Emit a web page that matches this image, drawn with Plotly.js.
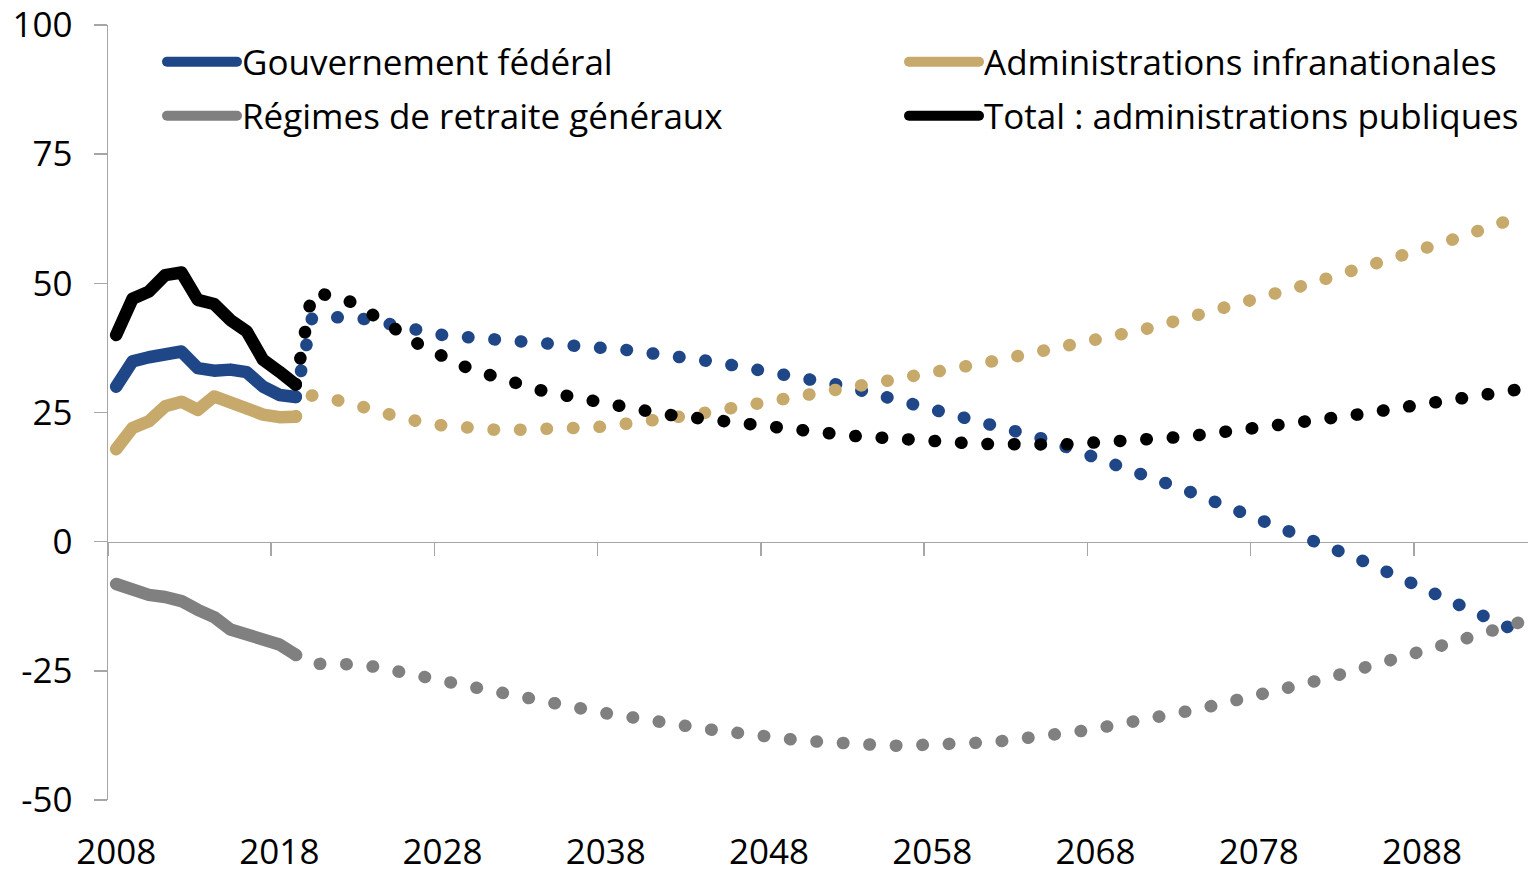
<!DOCTYPE html>
<html>
<head>
<meta charset="utf-8">
<script src="https://cdn.plot.ly/plotly-3.0.1.min.js"></script>
<style>
  html, body { margin: 0; padding: 0; background: #fff; }
  #chart { width: 1529px; height: 873px; }
  .js-line { stroke-linecap: round; stroke-linejoin: round; }
</style>
</head>
<body>
<div id="chart"></div>
<script>
// ---- Data ----
const histYears = [2008,2009,2010,2011,2012,2013,2014,2015,2016,2017,2018,2019];
const projYears = [2019,2020,2021,2022,2023,2024,2025,2026,2027,2028,2029,2030,2031,2032,2033,2034,2035,2036,2037,2038,2039,
  2040,2041,2042,2043,2044,2045,2046,2047,2048,2049,2050,2051,2052,2053,2054,2055,2056,2057,2058,2059,
  2060,2061,2062,2063,2064,2065,2066,2067,2068,2069,2070,2071,2072,2073,2074,2075,2076,2077,2078,2079,
  2080,2081,2082,2083,2084,2085,2086,2087,2088,2089,2090,2091,2092,2093,2094];

const federalHist = [30.0,34.9,35.7,36.4,36.8,33.6,33.1,33.3,32.8,30.0,28.4,28.0];
const federalProj = [28.0,43.3,43.5,43.5,43.2,42.6,41.8,41.1,40.5,40.0,39.7,39.5,39.3,39.0,38.9,38.7,38.4,38.1,37.9,37.6,37.2,
  36.8,36.5,36.1,35.7,35.1,34.6,34.1,33.6,33.0,32.4,31.8,31.2,30.5,29.8,29.0,28.3,27.5,26.8,26.0,25.1,
  24.2,23.4,22.5,21.6,20.6,19.7,18.6,17.5,16.5,15.4,14.3,13.1,11.9,10.7,9.4,8.1,6.9,5.6,4.4,3.1,
  2.0,0.7,-0.6,-1.9,-3.2,-4.6,-6.0,-7.4,-8.8,-10.3,-11.7,-13.2,-14.6,-16.1,-17.6];

const subnatHist = [17.9,22.0,23.3,26.2,27.1,25.5,28.1,26.9,26.0,24.6,24.1,24.2];
const subnatProj = [24.2,28.3,27.8,27.2,26.2,25.2,24.3,23.5,22.9,22.5,22.1,21.9,21.7,21.6,21.6,21.6,21.7,21.9,22.1,22.3,22.6,
  23.0,23.4,23.9,24.4,24.9,25.4,25.9,26.5,27.1,27.6,28.2,28.7,29.3,29.9,30.4,31.0,31.6,32.3,32.9,33.4,
  34.0,34.5,35.1,35.7,36.3,37.0,37.6,38.2,38.9,39.6,40.3,41.1,41.9,42.7,43.5,44.4,45.2,46.1,47.1,48.0,
  48.9,49.8,50.7,51.6,52.6,53.6,54.6,55.6,56.6,57.6,58.6,59.6,60.8,61.7,62.9];

const pensionHist = [-8.2,-9.4,-10.3,-10.7,-11.5,-13.2,-14.6,-17.0,-18.0,-19.1,-19.9,-21.9];
const pensionProj = [-21.9,-23.7,-23.6,-23.6,-23.8,-24.3,-24.8,-25.4,-26.1,-26.9,-27.6,-28.3,-29.0,-29.6,-30.3,-30.9,-31.4,-32.0,-32.6,-33.2,-33.8,
  -34.3,-34.7,-35.3,-35.7,-36.2,-36.6,-37.1,-37.5,-37.8,-38.2,-38.5,-38.7,-39.0,-39.2,-39.3,-39.4,-39.5,-39.5,-39.4,-39.3,
  -39.1,-38.9,-38.7,-38.4,-38.0,-37.6,-37.2,-36.7,-36.2,-35.7,-35.1,-34.5,-33.9,-33.3,-32.6,-31.9,-31.2,-30.6,-29.8,-28.9,
  -28.2,-27.4,-26.6,-25.7,-24.9,-24.0,-23.1,-22.2,-21.3,-20.3,-19.4,-18.5,-17.5,-16.5,-15.6];

const totalHist = [40.0,47.0,48.4,51.6,52.1,46.8,46.0,42.9,40.7,35.2,32.9,30.4];
const totalProj = [30.4,48.2,47.7,47.0,45.3,43.5,41.4,39.1,37.3,35.7,34.3,33.1,32.0,31.0,30.1,29.3,28.6,27.9,27.3,26.7,26.0,
  25.5,25.0,24.5,24.1,23.7,23.2,22.8,22.4,22.0,21.6,21.3,21.0,20.8,20.5,20.3,20.0,19.8,19.5,19.3,19.2,
  19.1,18.9,18.8,18.8,18.8,18.8,18.8,19.0,19.1,19.2,19.4,19.6,19.9,20.2,20.5,20.8,21.0,21.3,21.9,22.5,
  22.9,23.2,23.6,24.1,24.6,25.0,25.6,26.0,26.5,27.0,27.5,28.0,28.5,29.0,29.5];

const names = ['Gouvernement fédéral','Administrations infranationales','Régimes de retraite généraux','Total : administrations publiques'];
const labelYears = [2008,2018,2028,2038,2048,2058,2068,2078,2088];
const boundaryTicks = [2007.5,2017.5,2027.5,2037.5,2047.5,2057.5,2067.5,2077.5,2087.5];
const yTicks = [-50,-25,0,25,50,75,100];

// ---- Styles ----
const cBlue = '#1F4686', cGold = '#C6A96B', cGray = '#808080', cBlack = '#000000';
const W = 12.5;
const DOT = '0.5px,26px';

function hist(y, color, name, legend, xa) {
  return {x: histYears, y: y, type: 'scatter', mode: 'lines', name: name, legend: legend,
    xaxis: xa || 'x', line: {color: color, width: W}, hoverinfo: 'skip'};
}
function proj(y, color, xa) {
  return {x: projYears, y: y, type: 'scatter', mode: 'lines', showlegend: false,
    xaxis: xa || 'x', line: {color: color, width: W, dash: DOT}, hoverinfo: 'skip'};
}

const data = [
  proj(federalProj, cBlue),
  hist(federalHist, cBlue, names[0], 'legend'),
  proj(subnatProj, cGold),
  hist(subnatHist, cGold, names[1], 'legend2'),
  proj(totalProj, cBlack),
  hist(totalHist, cBlack, names[3], 'legend4'),
  proj(pensionProj, cGray, 'x2'),
  hist(pensionHist, cGray, names[2], 'legend3', 'x2')
];

const fontSize = 35;
function leg(x, y) {
  return {x: x, y: y, xref: 'container', yref: 'container', xanchor: 'left', yanchor: 'middle',
    bgcolor: 'rgba(0,0,0,0)', borderwidth: 0, itemwidth: 70,
    font: {family: 'Open Sans', size: fontSize, color: '#000'}};
}
const gridCol = '#A6A6A6';

const layout = {
  width: 1529, height: 873,
  margin: {l: 108, r: 1, t: 25, b: 73, autoexpand: false},
  paper_bgcolor: '#fff', plot_bgcolor: '#fff',
  font: {family: 'Open Sans', size: fontSize, color: '#000'},
  showlegend: true,
  legend: leg(162/1529, 1 - 62/873),
  legend2: leg(904/1529, 1 - 62/873),
  legend3: leg(162/1529, 1 - 116/873),
  legend4: leg(904/1529, 1 - 116/873),
  xaxis: {
    range: [2007.5, 2094.5], tickmode: 'array', tickvals: labelYears, ticktext: labelYears.map(String),
    ticks: '', showline: false, showgrid: false, zeroline: false, ticklabelstandoff: 28,
    tickfont: {size: fontSize, color: '#000'}, automargin: false
  },
  xaxis2: {
    overlaying: 'x', anchor: 'free', position: 1/3, range: [2007.5, 2094.5],
    tickmode: 'array', tickvals: boundaryTicks, ticks: 'outside', ticklen: 13, tickwidth: 1.5, tickcolor: gridCol,
    showticklabels: false, showline: true, linecolor: gridCol, linewidth: 1.5,
    showgrid: false, zeroline: false, layer: 'below traces', automargin: false
  },
  yaxis: {
    range: [-50, 100], tickmode: 'array', tickvals: yTicks, ticktext: yTicks.map(String),
    ticks: 'outside', ticklen: 13, tickwidth: 1.5, tickcolor: gridCol,
    showline: true, linecolor: gridCol, linewidth: 1.5, showgrid: false, zeroline: false,
    ticklabelstandoff: 14, tickfont: {size: fontSize, color: '#000'}, automargin: false
  }
};

Plotly.newPlot('chart', data, layout, {displayModeBar: false, staticPlot: true});
</script>
</body>
</html>
